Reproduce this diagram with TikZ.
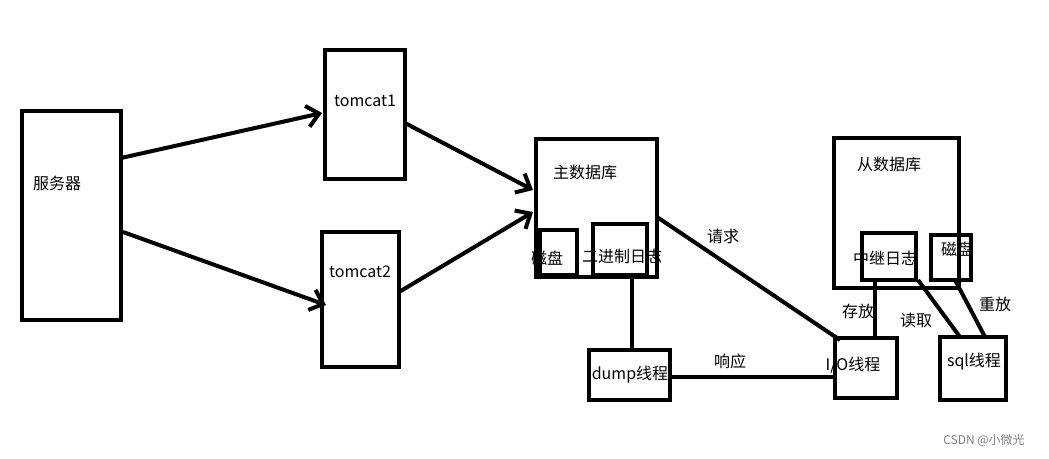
\documentclass[tikz,border=0pt]{standalone}
\usepackage{fontspec}
\setmainfont{Noto Sans CJK SC}
\usetikzlibrary{arrows.meta}
\begin{document}
\begin{tikzpicture}[x=0.75pt,y=-0.75pt,
  bx/.style={draw,line width=3pt},
  ln/.style={line width=3pt},
  ar/.style={line width=3pt,-{Straight Barb[length=9pt,width=16pt,line width=3pt]}},
  lb/.style={font=\fontsize{12pt}{14pt}\selectfont,inner sep=0pt}]
\useasboundingbox[fill=white] (0,0) rectangle (1049,458);
\draw[bx] (22,111) rectangle (121,320); \coordinate (srv) at (22,111);
\node[lb] (tsrv) at (57,183) {服务器};
\draw[bx] (325,50) rectangle (405,179);
\node[lb] (tt1) at (365,101) {tomcat1};
\draw[bx] (322,232) rectangle (399,367);
\node[lb] (tt2) at (360,272) {tomcat2};
\draw[bx] (536,139) rectangle (657,277);
\node[lb] (tm) at (585,172) {主数据库};
\draw[bx] (540,230) rectangle (577,275);
\draw[bx] (593,224) rectangle (647,275);
\node[lb] (td1) at (547,258) {磁盘};
\node[lb] (tbin) at (622,256) {二进制日志};
\draw[bx] (589,350) rectangle (670,400);
\node[lb] (tdump) at (630,375) {dump线程};
\draw[bx] (835,338) rectangle (897,398);
\node[lb] (tio) at (853,365) {I/O线程};
\draw[bx] (834,138) rectangle (959,288);
\node[lb] (ts) at (889,164) {从数据库};
\draw[bx] (862,233) rectangle (916,280);
\node[lb] (trl) at (885,258) {中继日志};
\draw[bx] (931,235) rectangle (971,280);
\node[lb] (td2) at (957,249) {磁盘};
\draw[bx] (940,337) rectangle (1006,400);
\node[lb] (tsql) at (974,362) {sql线程};
\coordinate (a1) at (121,158); \coordinate (a2) at (322,113);
\coordinate (b1) at (123,232); \coordinate (b2) at (326,305);
\coordinate (c1) at (405,123); \coordinate (c2) at (533,190);
\coordinate (d1) at (399,292); \coordinate (d2) at (533,212);
\draw[ar] (a1) -- (a2);
\draw[ar] (b1) -- (b2);
\draw[ar] (c1) -- (c2);
\draw[ar] (d1) -- (d2);
\coordinate (e1) at (657,217); \coordinate (e2) at (840,340);
\draw[ln] (e1) -- (e2);
\node[lb] (lq) at (723,236) {请求};
\coordinate (f1) at (632,275); \coordinate (f2) at (632,350);
\draw[ln] (f1) -- (f2);
\coordinate (g1) at (670,377); \coordinate (g2) at (835,377);
\draw[ln] (g1) -- (g2);
\node[lb] (lr) at (730,361) {响应};
\coordinate (h1) at (875,280); \coordinate (h2) at (875,338);
\draw[ln] (h1) -- (h2);
\node[lb] (lc) at (858,311) {存放};
\coordinate (i1) at (918,280); \coordinate (i2) at (960,337);
\draw[ln] (i1) -- (i2);
\node[lb] (ld) at (916,320) {读取};
\coordinate (j1) at (955,280); \coordinate (j2) at (985,337);
\draw[ln] (j1) -- (j2);
\node[lb] (lz) at (995,304) {重放};
\node[lb,text=gray,font=\fontsize{9pt}{10pt}\selectfont] (wm) at (984,440) {CSDN @小微光};
\end{tikzpicture}
\end{document}
